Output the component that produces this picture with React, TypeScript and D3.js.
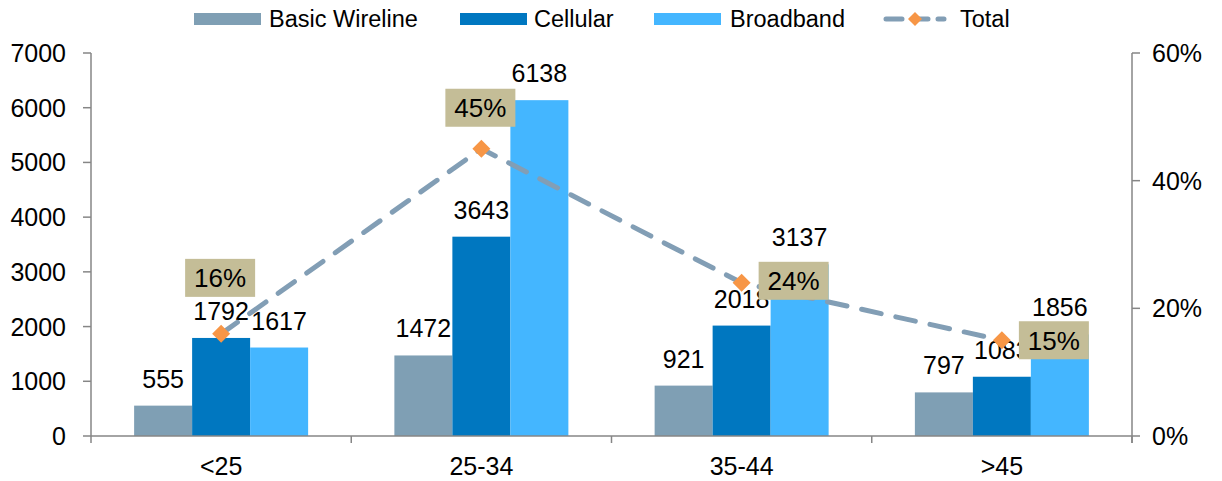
import React from "react";
import * as d3 from "d3";

const categories = ["<25", "25-34", "35-44", ">45"];
const seriesNames = ["Basic Wireline", "Cellular", "Broadband"];
const basicWireline = [555, 1472, 921, 797];
const cellular = [1792, 3643, 2018, 1083];
const broadband = [1617, 6138, 3137, 1856];
const totalPct = [0.16, 0.45, 0.24, 0.15];
const leftTicks = [0, 1000, 2000, 3000, 4000, 5000, 6000, 7000];
const rightTicks = [0, 0.2, 0.4, 0.6];

// label placement (style): offsets of percent boxes relative to markers
const pctBoxOffset: [number, number][] = [
  [-1, -56],
  [-1, -41],
  [52, -2],
  [52, 0],
];

const W = 1222;
const H = 481;
const M = { left: 91, right: 1132, top: 53, bottom: 436 };
const colors = ["#7F9FB4", "#0077C0", "#44B6FF"];
const lineColor = "#829EB5";
const markerColor = "#F79646";
const boxColor = "#C4BD97";
const axisColor = "#868686";
const font = "'Liberation Sans', Arial, sans-serif";
const fs = 25;

export default function App() {
  const series = [basicWireline, cellular, broadband];
  const x = d3.scaleBand<string>().domain(categories).range([M.left, M.right]);
  const bw = 58;
  const yL = d3.scaleLinear().domain([0, 7000]).range([M.bottom, M.top]);
  const yR = d3.scaleLinear().domain([0, 0.6]).range([M.bottom, M.top]);
  const cx = (i: number) => (x(categories[i]) as number) + x.bandwidth() / 2;
  const line = d3
    .line<number>()
    .x((_, i) => cx(i))
    .y((d) => yR(d));

  const legendItems = [
    { sx: 194, tx: 269, label: seriesNames[0], color: colors[0] },
    { sx: 460, tx: 534, label: seriesNames[1], color: colors[1] },
    { sx: 654, tx: 730, label: seriesNames[2], color: colors[2] },
  ];

  return (
    <div style={{ position: "absolute", left: 0, top: 0 }}>
      <svg width={W} height={H} style={{ display: "block", background: "#fff" }} fontFamily={font}>
        {/* legend */}
        {legendItems.map((l) => (
          <g key={l.label}>
            <rect x={l.sx} y={13} width={67} height={12} fill={l.color} />
            <text x={l.tx} y={27} fontSize={23.5}>
              {l.label}
            </text>
          </g>
        ))}
        <line x1={886} x2={944} y1={19} y2={19} stroke={lineColor} strokeWidth={5} strokeDasharray="16,10" strokeLinecap="round" />
        <path d="M915,12 L922,19 L915,26 L908,19 Z" fill={markerColor} />
        <text x={960} y={27} fontSize={23.5}>
          Total
        </text>

        {/* left axis */}
        <line x1={M.left} x2={M.left} y1={M.top} y2={M.bottom + 7} stroke={axisColor} strokeWidth={1.5} />
        {leftTicks.map((t) => (
          <g key={t}>
            <line x1={M.left - 8} x2={M.left} y1={yL(t)} y2={yL(t)} stroke={axisColor} strokeWidth={1.5} />
            <text x={66} y={yL(t)} dy="0.36em" textAnchor="end" fontSize={fs}>
              {t}
            </text>
          </g>
        ))}
        {/* right axis */}
        <line x1={M.right} x2={M.right} y1={M.top} y2={M.bottom + 7} stroke={axisColor} strokeWidth={1.5} />
        {rightTicks.map((t) => (
          <g key={t}>
            <line x1={M.right} x2={M.right + 8} y1={yR(t)} y2={yR(t)} stroke={axisColor} strokeWidth={1.5} />
            <text x={1152} y={yR(t)} dy="0.36em" textAnchor="start" fontSize={fs}>
              {d3.format(".0%")(t)}
            </text>
          </g>
        ))}

        {/* bars */}
        {series.map((s, si) =>
          s.map((v, i) => (
            <rect
              key={`${si}-${i}`}
              x={cx(i) - 1.5 * bw + si * bw}
              y={yL(v)}
              width={bw}
              height={yL(0) - yL(v)}
              fill={colors[si]}
            />
          ))
        )}

        {/* bottom axis */}
        <line x1={M.left} x2={M.right} y1={M.bottom} y2={M.bottom} stroke={axisColor} strokeWidth={1.5} />
        {categories.map((c) => (
          <line
            key={c}
            x1={(x(c) as number) + x.bandwidth()}
            x2={(x(c) as number) + x.bandwidth()}
            y1={M.bottom}
            y2={M.bottom + 7}
            stroke={axisColor}
            strokeWidth={1.5}
          />
        ))}
        {categories.map((c, i) => (
          <text key={c} x={cx(i)} y={475} textAnchor="middle" fontSize={fs}>
            {c}
          </text>
        ))}

        {/* bar value labels */}
        {series.map((s, si) =>
          s.map((v, i) => (
            <text
              key={`l${si}-${i}`}
              x={cx(i) - bw + si * bw}
              y={yL(v) - 18}
              textAnchor="middle"
              fontSize={fs}
            >
              {v}
            </text>
          ))
        )}

        {/* total line */}
        <path d={line(totalPct) || ""} fill="none" stroke={lineColor} strokeWidth={5} strokeDasharray="20,15" strokeLinecap="round" />
        {totalPct.map((p, i) => (
          <path
            key={i}
            d={`M${cx(i)},${yR(p) - 9} L${cx(i) + 9},${yR(p)} L${cx(i)},${yR(p) + 9} L${cx(i) - 9},${yR(p)} Z`}
            fill={markerColor}
          />
        ))}
        {totalPct.map((p, i) => {
          const bx = cx(i) + pctBoxOffset[i][0];
          const by = yR(p) + pctBoxOffset[i][1];
          return (
            <g key={`b${i}`}>
              <rect x={bx - 35} y={by - 19} width={70} height={38} fill={boxColor} />
              <text x={bx} y={by} dy="0.36em" textAnchor="middle" fontSize={26}>
                {d3.format(".0%")(p)}
              </text>
            </g>
          );
        })}
      </svg>
    </div>
  );
}
